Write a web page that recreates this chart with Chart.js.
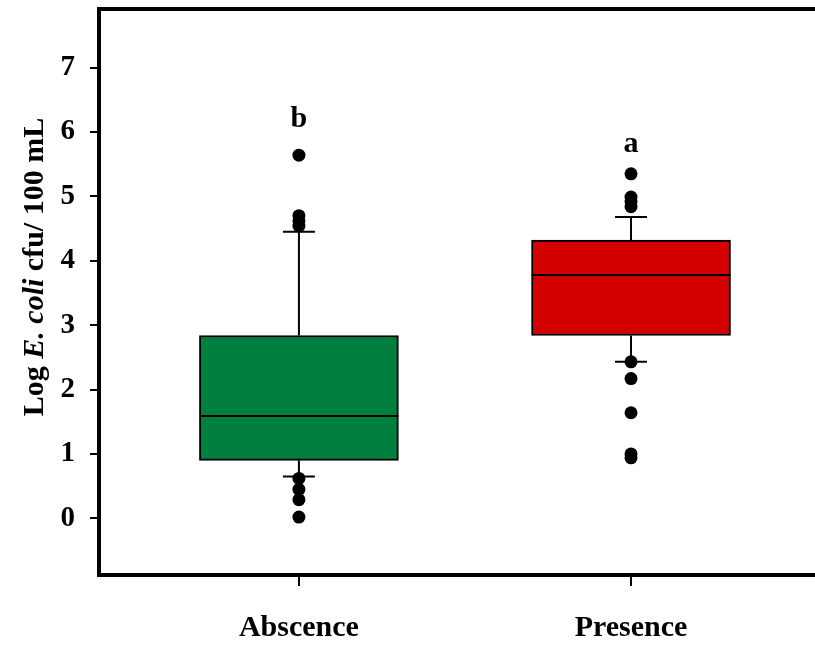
<!DOCTYPE html>
<html>
<head>
<meta charset="utf-8">
<title>Log E. coli by presence</title>
<script src="https://cdn.jsdelivr.net/npm/chart.js@4/dist/chart.umd.min.js"></script>
<style>
  html, body { margin: 0; padding: 0; background: #fff; overflow: hidden; }
  #chart { display: block; }
</style>
</head>
<body>
<canvas id="chart" width="815" height="645"></canvas>
<script>
// categories and box stats
const categories  = ['Abscence', 'Presence'];
const positions   = [0, 1];
const q1          = [0.90, 2.84];
const medians     = [1.59, 3.78];
const q3          = [2.84, 4.32];
const whiskerLow  = [0.65, 2.43];
const whiskerHigh = [4.45, 4.68];

// outliers per group
const outliersAbscence = [5.64, 4.70, 4.62, 4.54, 0.62, 0.45, 0.29, 0.02];
const outliersPresence = [5.35, 4.99, 4.92, 4.84, 2.43, 2.17, 1.64, 1.00, 0.94];

// significance letters and their heights
const groupLetters = ['b', 'a'];
const letterHeights = [6.08, 5.69];

const yTicks = [0, 1, 2, 3, 4, 5, 6, 7];
const boxColors = ['#007F3F', '#D40000'];

const SERIF = "'Liberation Serif', 'Times New Roman', serif";

const boxData = positions.map((p, i) => ({ x: p, y: [q1[i], q3[i]] }));
const outlierData = [
  ...outliersAbscence.map(v => ({ x: positions[0], y: v })),
  ...outliersPresence.map(v => ({ x: positions[1], y: v }))
];

// whiskers, caps, medians, letters, frame top and y title
const boxParts = {
  id: 'boxParts',
  beforeDatasetsDraw(chart) {
    const { ctx, scales: { x, y } } = chart;
    ctx.save();
    ctx.strokeStyle = '#000';
    ctx.lineWidth = 2;
    positions.forEach((p, i) => {
      const px = x.getPixelForValue(p);
      ctx.beginPath();
      ctx.moveTo(px, y.getPixelForValue(whiskerLow[i]));
      ctx.lineTo(px, y.getPixelForValue(q1[i]));
      ctx.moveTo(px, y.getPixelForValue(q3[i]));
      ctx.lineTo(px, y.getPixelForValue(whiskerHigh[i]));
      // caps
      [whiskerLow[i], whiskerHigh[i]].forEach(v => {
        const py = y.getPixelForValue(v);
        ctx.moveTo(px - 16, py);
        ctx.lineTo(px + 16, py);
      });
      ctx.stroke();
    });
    ctx.restore();
  },
  afterDatasetDraw(chart, args) {
    if (args.meta.type !== 'bar') return;
    const { ctx, scales: { y } } = chart;
    ctx.save();
    ctx.strokeStyle = '#000';
    ctx.lineWidth = 2;
    args.meta.data.forEach((bar, i) => {
      const half = bar.width / 2;
      const py = y.getPixelForValue(medians[i]);
      ctx.beginPath();
      ctx.moveTo(bar.x - half, py);
      ctx.lineTo(bar.x + half, py);
      ctx.stroke();
    });
    ctx.restore();
  },
  afterDraw(chart) {
    const { ctx, chartArea, scales: { x, y } } = chart;
    ctx.save();
    // top frame line
    ctx.strokeStyle = '#000';
    ctx.lineWidth = 4;
    ctx.beginPath();
    ctx.moveTo(chartArea.left - 2, chartArea.top);
    ctx.lineTo(chartArea.right, chartArea.top);
    ctx.stroke();

    // letters above boxes
    ctx.fillStyle = '#000';
    ctx.font = `bold 30px ${SERIF}`;
    ctx.textAlign = 'center';
    ctx.textBaseline = 'alphabetic';
    positions.forEach((p, i) => {
      ctx.fillText(groupLetters[i], x.getPixelForValue(p), y.getPixelForValue(letterHeights[i]));
    });

    // y axis title with italic species name
    const parts = [
      { t: 'Log ', f: `bold 30px ${SERIF}` },
      { t: 'E. coli', f: `italic bold 30px ${SERIF}` },
      { t: ' cfu/ 100 mL', f: `bold 30px ${SERIF}` }
    ];
    let total = 0;
    parts.forEach(pt => { ctx.font = pt.f; pt.w = ctx.measureText(pt.t).width; total += pt.w; });
    ctx.translate(43, 267);
    ctx.rotate(-Math.PI / 2);
    ctx.textAlign = 'left';
    let cx = -total / 2;
    parts.forEach(pt => { ctx.font = pt.f; ctx.fillText(pt.t, cx, 0); cx += pt.w; });
    ctx.restore();
  }
};

new Chart(document.getElementById('chart'), {
  type: 'bar',
  data: {
    datasets: [
      {
        type: 'bar',
        data: boxData,
        backgroundColor: boxColors,
        borderColor: '#000',
        borderWidth: 2,
        borderSkipped: false,
        barThickness: 199,
        grouped: false,
        order: 2
      },
      {
        type: 'scatter',
        data: outlierData,
        backgroundColor: '#000',
        borderColor: '#000',
        pointRadius: 6.5,
        pointHoverRadius: 6.5,
        borderWidth: 0,
        order: 1
      }
    ]
  },
  options: {
    responsive: false,
    animation: false,
    layout: { autoPadding: false, padding: { top: 9, right: 0, left: 0, bottom: 0 } },
    plugins: { legend: { display: false }, tooltip: { enabled: false } },
    scales: {
      x: {
        type: 'linear',
        min: -0.602,
        max: 1.554,
        offset: false,
        afterFit: s => { s.height = 70; s.paddingLeft = 0; s.paddingRight = 0; },
        afterBuildTicks: s => { s.ticks = positions.map(v => ({ value: v })); },
        ticks: {
          callback: v => categories[positions.indexOf(v)] || '',
          font: { family: SERIF, size: 30, weight: 'bold' },
          color: '#000',
          padding: 24,
          maxRotation: 0
        },
        grid: { offset: false, drawOnChartArea: false, drawTicks: true, tickLength: 11, color: '#000', lineWidth: 2 },
        border: { display: true, color: '#000', width: 4 }
      },
      y: {
        type: 'linear',
        min: -0.88,
        max: 7.91,
        afterFit: s => { s.width = 99; s.paddingTop = 0; s.paddingBottom = 0; },
        afterBuildTicks: s => { s.ticks = yTicks.map(v => ({ value: v })); },
        ticks: {
          font: { family: SERIF, size: 29, weight: 'bold' },
          color: '#000',
          padding: 15
        },
        grid: { drawOnChartArea: false, drawTicks: true, tickLength: 9, color: '#000', lineWidth: 2 },
        border: { display: true, color: '#000', width: 4 }
      }
    }
  },
  plugins: [boxParts]
});
</script>
</body>
</html>
